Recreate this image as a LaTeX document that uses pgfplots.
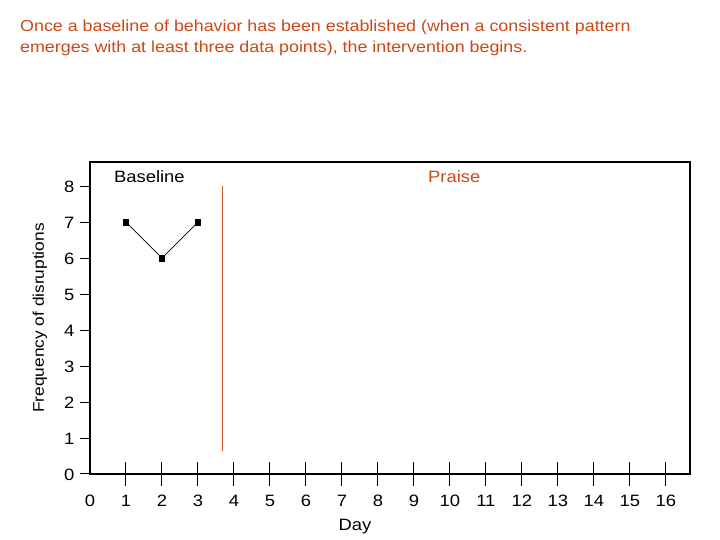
\documentclass[border=0pt]{standalone}
\usepackage{fontspec}
\setmainfont{Liberation Sans}[FakeStretch=1.12]
\usepackage{pgfplots}
\pgfplotsset{compat=1.18}
\definecolor{rust}{RGB}{204,72,24}
\definecolor{rustline}{RGB}{200,90,45}

\begin{document}
\begin{tikzpicture}[x=1bp,y=1bp]
\path[use as bounding box] (0,0) rectangle (720,540);
\node[anchor=base west, text=rust, inner sep=0, font=\fontsize{16}{21}\selectfont]
  at (20,508) {Once a baseline of behavior has been established (when a consistent pattern};
\node[anchor=base west, text=rust, inner sep=0, font=\fontsize{16}{21}\selectfont]
  at (20,487) {emerges with at least three data points), the intervention begins.};
\begin{axis}[
  at={(90bp,66bp)}, anchor=south west,
  width=600bp, height=312bp, scale only axis,
  xmin=0, xmax=16.67, ymin=0, ymax=8.67,
  axis line style={line width=1.3bp},
  font=\fontsize{16.5}{18}\selectfont,
  /pgf/number format/assume math mode=true,
  xtick={0,...,16}, ytick={0,...,8},
  minor xtick={1,...,16},
  major x tick style={draw=none},
  minor x tick style={black, line width=1bp},
  y tick style={black, line width=1bp},
  xtick align=center, ytick align=outside,
  xtick pos=bottom, ytick pos=left,
  x tick label style={yshift=-13bp},
  y tick label style={xshift=-2bp, yshift=-1bp},
  major tick length=10bp, minor tick length=24bp,
  clip=false,
]
  \addplot[black, line width=0.7bp, mark=square*, mark size=2.8bp] coordinates {
    (1, 7) (2, 6) (3, 7)
  };
  \addplot[rustline, line width=1bp] coordinates {
    (3.69, 0.65) (3.69, 8)
  };
  \node[font=\fontsize{16.5}{18}\selectfont] at (axis cs:1.65,8.25) {Baseline};
  \node[font=\fontsize{16.5}{18}\selectfont, text=rust] at (axis cs:10.12,8.25) {Praise};
\end{axis}
\node[rotate=90, font=\fontsize{15.5}{17}\selectfont] at (40,222) {Frequency of disruptions};
\node[font=\fontsize{16.5}{18}\selectfont] at (355,13) {Day};
\end{tikzpicture}
\end{document}
